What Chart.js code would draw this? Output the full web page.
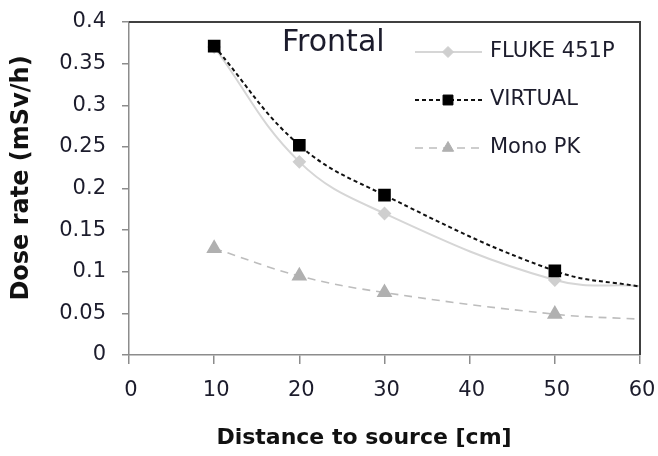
<!DOCTYPE html>
<html>
<head>
<meta charset="utf-8">
<script src="https://cdn.jsdelivr.net/npm/chart.js@4"></script>
<style>
html,body{margin:0;padding:0;background:#fff;}
#wrap{width:658px;height:456px;}
</style>
</head>
<body>
<div id="wrap"><canvas id="c" width="658" height="456"></canvas></div>
<script>
const distances = [10, 20, 30, 50, 60];
const fluke451P = [0.37, 0.232, 0.17, 0.09, 0.083];
const virtualDose = [0.371, 0.252, 0.192, 0.101, 0.082];
const monoPK = [0.128, 0.095, 0.075, 0.049, 0.043];
const seriesNames = ['FLUKE 451P', 'VIRTUAL', 'Mono PK'];
const xTicks = [0, 10, 20, 30, 40, 50, 60];
const yTicks = [0, 0.05, 0.1, 0.15, 0.2, 0.25, 0.3, 0.35, 0.4];

const TXT = '#1c1c2c';
const FONT = "'DejaVu Sans', Verdana, sans-serif";

function pts(vals){ return distances.map((d,i)=>({x:d,y:vals[i]})); }
function radii(r){ return distances.map(d => d === 60 ? 0 : r); }

const overlay = {
  id: 'overlay',
  afterDraw(chart){
    const {ctx, chartArea:a} = chart;
    const xs = chart.scales.x, ys = chart.scales.y;
    ctx.save();
    // top & right frame
    ctx.strokeStyle = '#404040';
    ctx.lineWidth = 2;
    ctx.beginPath();
    ctx.moveTo(a.left, a.top); ctx.lineTo(a.right, a.top); ctx.lineTo(a.right, a.bottom);
    ctx.stroke();
    // tick labels
    ctx.fillStyle = TXT;
    ctx.font = "21px " + FONT;
    ctx.textBaseline = 'middle';
    ctx.textAlign = 'right';
    yTicks.forEach(v => ctx.fillText(String(v), 106, ys.getPixelForValue(v)));
    ctx.textAlign = 'center';
    xTicks.forEach(v => ctx.fillText(String(v), xs.getPixelForValue(v) + 2, 391));
    // axis titles
    ctx.fillStyle = '#111';
    ctx.font = "bold 22px " + FONT;
    ctx.fillText('Distance to source [cm]', 364, 438);
    ctx.save();
    ctx.translate(22, 178);
    ctx.rotate(-Math.PI / 2);
    ctx.font = "bold 24px " + FONT;
    ctx.textAlign = 'center';
    ctx.fillText('Dose rate (mSv/h)', 0, 0);
    ctx.restore();
    // title inside plot
    ctx.fillStyle = TXT;
    ctx.font = "30px " + FONT;
    ctx.textAlign = 'left';
    ctx.fillText('Frontal', 282, 43);
    // legend
    const rows = [52, 100, 148];
    chart.data.datasets.forEach((ds, i) => {
      const y = rows[i];
      ctx.save();
      ctx.strokeStyle = ds.borderColor;
      ctx.lineWidth = ds.borderWidth;
      ctx.setLineDash(ds.borderDash || []);
      ctx.beginPath(); ctx.moveTo(415, y); ctx.lineTo(482, y); ctx.stroke();
      ctx.setLineDash([]);
      ctx.fillStyle = ds.pointBackgroundColor;
      ctx.strokeStyle = ds.pointBorderColor;
      ctx.lineWidth = 1;
      Chart.helpers.drawPoint(ctx, {pointStyle: ds.pointStyle, rotation: 0, radius: ds.legendRadius, borderWidth: 1}, 448, y);
      ctx.restore();
      ctx.fillStyle = TXT;
      ctx.font = "21px " + FONT;
      ctx.textAlign = 'left';
      ctx.textBaseline = 'middle';
      ctx.fillText(seriesNames[i], 490, y);
    });
    ctx.restore();
  }
};

new Chart(document.getElementById('c'), {
  type: 'line',
  data: {
    datasets: [
      {
        label: seriesNames[0], data: pts(fluke451P),
        borderColor: '#d6d6d6', borderWidth: 2, borderDash: [],
        pointStyle: 'rectRot', pointRadius: radii(5.5), legendRadius: 5.5,
        pointBackgroundColor: '#cfcfcf', pointBorderColor: '#cfcfcf',
        tension: 0.4, order: 3
      },
      {
        label: seriesNames[1], data: pts(virtualDose),
        borderColor: '#111111', borderWidth: 2, borderDash: [4, 3],
        pointStyle: 'rect', pointRadius: radii(7.5), legendRadius: 7,
        pointBackgroundColor: '#000000', pointBorderColor: '#000000',
        tension: 0.4, order: 1
      },
      {
        label: seriesNames[2], data: pts(monoPK),
        borderColor: '#bdbdbd', borderWidth: 1.6, borderDash: [8, 6],
        pointStyle: 'triangle', pointRadius: radii(7.5), legendRadius: 6.5,
        pointBackgroundColor: '#b0b0b0', pointBorderColor: '#b0b0b0',
        tension: 0.4, order: 2
      }
    ]
  },
  options: {
    responsive: false,
    animation: false,
    layout: { padding: { top: 22, right: 18, left: 0, bottom: 0 } },
    plugins: { legend: { display: false }, tooltip: { enabled: false } },
    scales: {
      x: {
        type: 'linear', min: 0, max: 60,
        afterBuildTicks(s){ s.ticks = xTicks.map(v => ({value: v})); },
        afterFit(s){ s.height = 101; },
        grid: { drawOnChartArea: false, color: '#8c8c8c', tickLength: 9, lineWidth: 1.5 },
        border: { color: '#8c8c8c', width: 1.5 },
        ticks: { display: false },
        title: { display: false }
      },
      y: {
        min: 0, max: 0.4,
        afterBuildTicks(s){ s.ticks = yTicks.map(v => ({value: v})); },
        afterFit(s){ s.width = 129; },
        grid: { drawOnChartArea: false, color: '#8c8c8c', tickLength: 7, lineWidth: 1.5 },
        border: { color: '#8c8c8c', width: 1.5 },
        ticks: { display: false },
        title: { display: false }
      }
    }
  },
  plugins: [overlay]
});
</script>
</body>
</html>
